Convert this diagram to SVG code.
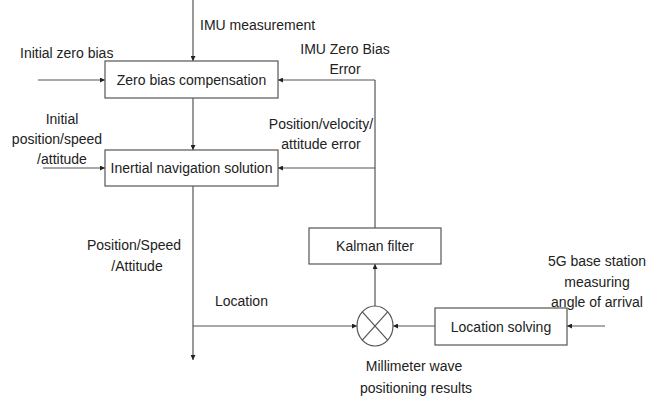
<svg xmlns="http://www.w3.org/2000/svg" width="656" height="396" viewBox="0 0 656 396">
  <style>
    .box { fill: #fff; stroke: #555; stroke-width: 1.2; }
    .ln { fill: none; stroke: #555; stroke-width: 1.2; }
    .arr { fill: none; stroke: #555; stroke-width: 1.2; marker-end: url(#ah); }
    text { font-family: "Liberation Sans", Arial, sans-serif; font-size: 14px; fill: #222; }
    .c { text-anchor: middle; }
  </style>
  <defs>
    <marker id="ah" viewBox="0 0 10 10" refX="10" refY="5" markerWidth="5" markerHeight="5" markerUnits="userSpaceOnUse" orient="auto">
      <path d="M0,0 L10,5 L0,10 z" fill="#222"/>
    </marker>
  </defs>
  <rect width="656" height="396" fill="#fff"/>

  <!-- connectors -->
  <g id="connectors">
    <line class="arr" x1="193" y1="0" x2="193" y2="61"/>
    <line class="arr" x1="38" y1="80" x2="105" y2="80"/>
    <line class="arr" x1="193" y1="98" x2="193" y2="150"/>
    <line class="arr" x1="43" y1="168" x2="105" y2="168"/>
    <polyline class="ln" points="375,228 375,80"/>
    <line class="arr" x1="375" y1="80" x2="278" y2="80"/>
    <line class="arr" x1="375" y1="168" x2="278" y2="168"/>
    <line class="arr" x1="193" y1="186" x2="193" y2="360"/>
    <line class="arr" x1="193" y1="326" x2="357" y2="326"/>
    <line class="arr" x1="375" y1="306" x2="375" y2="264"/>
    <line class="arr" x1="435" y1="326" x2="393" y2="326"/>
    <line class="arr" x1="605" y1="326" x2="567" y2="326"/>
  </g>

  <g id="zero-bias">
    <rect class="box" x="105" y="61" width="173" height="37"/>
    <text class="c" x="191.5" y="84.5">Zero bias compensation</text>
  </g>
  <g id="inertial-nav">
    <rect class="box" x="105" y="150" width="173" height="36"/>
    <text class="c" x="191.5" y="173">Inertial navigation solution</text>
  </g>
  <g id="kalman">
    <rect class="box" x="309" y="228" width="132" height="36"/>
    <text class="c" x="375" y="251">Kalman filter</text>
  </g>
  <g id="location-solving">
    <rect class="box" x="435" y="308" width="132" height="37"/>
    <text class="c" x="501" y="331.5">Location solving</text>
  </g>
  <g id="comparator">
    <ellipse class="box" cx="375" cy="326" rx="18" ry="20"/>
    <line class="ln" x1="362.3" y1="311.9" x2="387.7" y2="340.1"/>
    <line class="ln" x1="362.3" y1="340.1" x2="387.7" y2="311.9"/>
  </g>

  <!-- labels -->
  <g id="labels">
    <text x="200" y="30">IMU measurement</text>
    <text x="20" y="58">Initial zero bias</text>
    <text class="c" x="345" y="54">IMU Zero Bias</text>
    <text class="c" x="345" y="74">Error</text>
    <text class="c" x="62" y="124">Initial</text>
    <text class="c" x="57" y="144">position/speed</text>
    <text class="c" x="62" y="164">/attitude</text>
    <text class="c" x="321" y="129">Position/velocity/</text>
    <text class="c" x="321" y="149">attitude error</text>
    <text class="c" x="134" y="250">Position/Speed</text>
    <text class="c" x="137" y="271">/Attitude</text>
    <text x="215" y="306">Location</text>
    <text class="c" x="597" y="266">5G base station</text>
    <text class="c" x="597" y="287">measuring</text>
    <text class="c" x="597" y="307">angle of arrival</text>
    <text class="c" x="414" y="371">Millimeter wave</text>
    <text class="c" x="416" y="393">positioning results</text>
  </g>
</svg>
